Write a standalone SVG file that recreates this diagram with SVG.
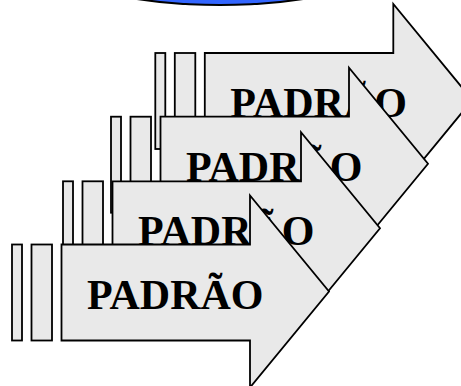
<svg xmlns="http://www.w3.org/2000/svg" width="461" height="386" viewBox="0 0 461 386">
<style>
.shp{fill:#e9e9e9;stroke:#000;stroke-width:1.8;stroke-linejoin:miter}
.lbl{font-family:"Liberation Serif","Times New Roman",serif;font-weight:bold;font-size:42px;fill:#000}
</style>
<defs>
<g id="arrowShape">
<rect class="shp" x="-238" y="49" width="10" height="96"/>
<rect class="shp" x="-218.5" y="49" width="20.5" height="96"/>
<path class="shp" d="M -188.5,49 H 0 V 0 L 79,96 L 0,192 V 145 H -188.5 Z"/>
<text class="lbl" x="-163" y="113">PADRÃO</text>
</g>
</defs>
<g id="ellipse">
<ellipse cx="220" cy="-34" rx="158" ry="40" fill="#000"/>
<ellipse cx="220" cy="-36" rx="156" ry="40" fill="#3366ff"/>
</g>
<g id="arrow1" transform="translate(393.3,4)"><use href="#arrowShape"/></g>
<g id="arrow2" transform="translate(349,67.7)"><use href="#arrowShape"/></g>
<g id="arrow3" transform="translate(301,132.3)"><use href="#arrowShape"/></g>
<g id="arrow4" transform="translate(250,195.5)"><use href="#arrowShape"/></g>
<g id="connectors"/>
</svg>
